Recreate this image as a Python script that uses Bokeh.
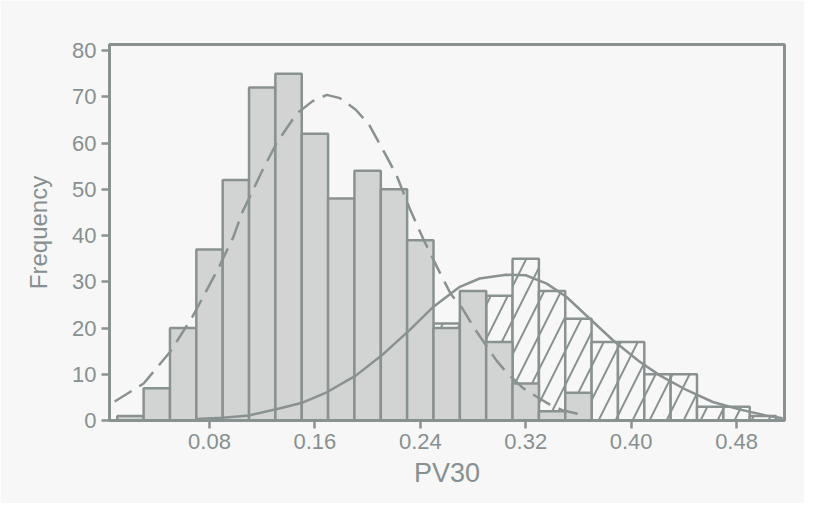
from bokeh.plotting import figure
from bokeh.models import Range1d, FixedTicker
from bokeh.embed import file_html
from bokeh.resources import INLINE

# ---- data ----
gray_x = [0.02, 0.04, 0.06, 0.08, 0.10, 0.12, 0.14, 0.16, 0.18, 0.20, 0.22, 0.24,
          0.26, 0.28, 0.30, 0.32, 0.34, 0.36]
gray_counts = [1, 7, 20, 37, 52, 72, 75, 62, 48, 54, 50, 39,
               20, 28, 17, 8, 2, 6]

hatch_x = [0.26, 0.30, 0.32, 0.34, 0.36, 0.38, 0.40, 0.42, 0.44, 0.46, 0.48, 0.50]
hatch_counts = [21, 27, 35, 28, 22, 17, 17, 10, 10, 3, 3, 1]

dashed_x = [0.008, 0.03, 0.05, 0.067, 0.086, 0.098, 0.105, 0.112, 0.12, 0.131,
            0.146, 0.158, 0.169, 0.179, 0.191, 0.201, 0.213, 0.222, 0.232, 0.242,
            0.253, 0.263, 0.272, 0.282, 0.29, 0.298, 0.306, 0.318, 0.328, 0.338,
            0.348, 0.365]
dashed_y = [4.1, 8.0, 14.8, 22.4, 32.5, 39.6, 45.1, 49.2, 54.0, 60.0,
            66.3, 69.0, 70.4, 69.7, 67.2, 64.0, 57.8, 53.0, 45.8, 39.4,
            33.0, 27.4, 24.2, 19.5, 16.2, 12.9, 10.2, 7.0, 5.2, 3.5,
            2.2, 1.1]

solid_x = [0.07, 0.09, 0.11, 0.133, 0.151, 0.169, 0.191, 0.212, 0.232, 0.25,
           0.27, 0.285, 0.305, 0.32, 0.336, 0.351, 0.366, 0.386, 0.406, 0.422,
           0.442, 0.462, 0.482, 0.502, 0.515]
solid_y = [0.3, 0.6, 1.1, 2.6, 3.9, 6.1, 9.7, 14.4, 19.6, 24.6,
           28.9, 30.7, 31.5, 31.4, 29.6, 26.7, 22.7, 17.4, 12.8, 9.7,
           6.6, 4.0, 2.4, 1.1, 0.5]

x_ticks = [0.08, 0.16, 0.24, 0.32, 0.40, 0.48]
x_tick_labels = ["0.08", "0.16", "0.24", "0.32", "0.40", "0.48"]
y_ticks = [0, 10, 20, 30, 40, 50, 60, 70, 80]

bin_width = 0.02

# ---- styling ----
INK = "#8a9291"
TEXT = "#879090"
BG = "#f7f7f7"
FONT = "Liberation Sans"

p = figure(width=804, height=503, output_backend="svg", toolbar_location=None,
           x_range=Range1d(0.0041, 0.5164), y_range=Range1d(0, 81.3),
           min_border_left=109, min_border_right=20, min_border_top=44,
           min_border_bottom=83)

p.background_fill_color = BG
p.border_fill_color = BG
p.outline_line_color = INK
p.outline_line_width = 3
p.grid.visible = False

p.vbar(x=hatch_x, top=hatch_counts, bottom=0, width=bin_width,
       fill_color=BG, line_color=INK, line_width=2.5,
       hatch_pattern="/", hatch_color=INK, hatch_weight=2, hatch_scale=34)

p.vbar(x=gray_x, top=gray_counts, bottom=0, width=bin_width,
       fill_color="#d1d4d3", line_color=INK, line_width=2.5)

p.line(dashed_x, dashed_y, line_color=INK, line_width=2.5, line_dash="20 9")
p.line(solid_x, solid_y, line_color=INK, line_width=2.5)

p.xaxis.ticker = FixedTicker(ticks=x_ticks)
p.xaxis.major_label_overrides = {t: l for t, l in zip(x_ticks, x_tick_labels)}
p.yaxis.ticker = FixedTicker(ticks=y_ticks)

for ax in (p.xaxis, p.yaxis):
    ax.axis_line_color = INK
    ax.axis_line_width = 3
    ax.major_tick_line_color = INK
    ax.major_tick_line_width = 2.5
    ax.major_tick_out = 8
    ax.major_tick_in = 0
    ax.minor_tick_line_color = None
    ax.major_label_text_font = FONT
    ax.major_label_text_font_size = "22px"
    ax.major_label_text_color = TEXT
    ax.axis_label_text_font = FONT
    ax.axis_label_text_font_style = "normal"
    ax.axis_label_text_color = TEXT

p.xaxis.axis_label = "PV30"
p.yaxis.axis_label = "Frequency"
p.xaxis.axis_label_text_font_size = "27px"
p.yaxis.axis_label_text_font_size = "24px"
p.xaxis.major_label_standoff = 5
p.yaxis.major_label_standoff = 5
p.xaxis.axis_label_standoff = 6
p.yaxis.axis_label_standoff = 17

open("out.html", "w").write(file_html(p, INLINE))
